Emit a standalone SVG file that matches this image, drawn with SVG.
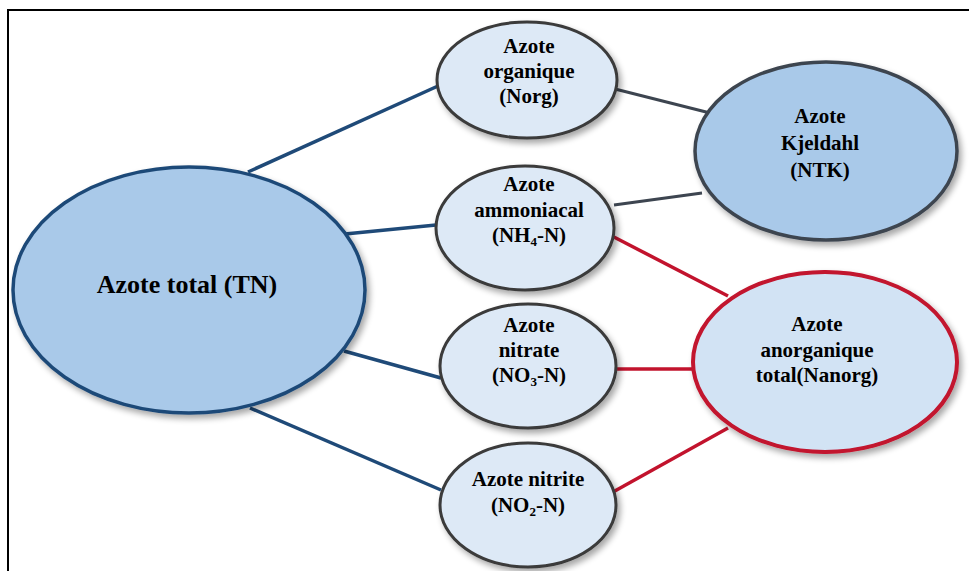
<svg xmlns="http://www.w3.org/2000/svg" width="969" height="571" viewBox="0 0 969 571">
<defs>
<filter id="sh" x="-10%" y="-10%" width="125%" height="125%">
<feGaussianBlur in="SourceAlpha" stdDeviation="3"/>
<feOffset dx="3" dy="4"/>
<feComponentTransfer><feFuncA type="linear" slope="0.35"/></feComponentTransfer>
<feMerge><feMergeNode/><feMergeNode in="SourceGraphic"/></feMerge>
</filter>
<style>
.t{font-size:21px}
.big{font-size:26px}
.sub{font-size:13px}
.small{fill:#dde9f6;stroke:#3a3a3a;stroke-width:3}
.blue{stroke:#1f4a78;stroke-width:3.5;fill:none}
.grey{stroke:#3d4550;stroke-width:3;fill:none}
.red{stroke:#c2132d;stroke-width:3.5;fill:none}
</style>
</defs>
<rect width="969" height="571" fill="#fff"/>
<path d="M8 571 V10 H969" fill="none" stroke="#000" stroke-width="2"/>
<g id="connectors">
<line class="blue" x1="248" y1="172" x2="438" y2="86"/>
<line class="blue" x1="345" y1="234" x2="436" y2="225"/>
<line class="blue" x1="344" y1="351" x2="441" y2="378"/>
<line class="blue" x1="250" y1="408" x2="441" y2="490"/>
<line class="grey" x1="615" y1="89" x2="718" y2="115"/>
<line class="grey" x1="614" y1="205" x2="702" y2="193"/>
<line class="red" x1="612" y1="236" x2="728" y2="296"/>
<line class="red" x1="615" y1="369" x2="694" y2="369"/>
<line class="red" x1="613" y1="492" x2="728" y2="428"/>
</g>
<g font-family="Liberation Serif, serif" font-weight="bold" text-anchor="middle" fill="#000">
<g id="tn">
<ellipse cx="189" cy="290" rx="176" ry="123" fill="#a9c9e9" stroke="#1f4a78" stroke-width="3.5" filter="url(#sh)"/>
<text class="big" x="187" y="293">Azote total (TN)</text>
</g>
<g id="norg">
<ellipse class="small" cx="527" cy="80" rx="90" ry="58" filter="url(#sh)"/>
<text class="t" x="529" y="53">Azote</text>
<text class="t" x="529" y="78">organique</text>
<text class="t" x="529" y="103">(Norg)</text>
</g>
<g id="nh4">
<ellipse class="small" cx="525" cy="228" rx="89" ry="62" filter="url(#sh)"/>
<text class="t" x="529" y="191">Azote</text>
<text class="t" x="529" y="217">ammoniacal</text>
<text class="t" x="529" y="242">(NH<tspan class="sub" dy="4">4</tspan><tspan dy="-4">-N)</tspan></text>
</g>
<g id="no3">
<ellipse class="small" cx="528" cy="366" rx="88" ry="62" filter="url(#sh)"/>
<text class="t" x="529" y="332">Azote</text>
<text class="t" x="529" y="357">nitrate</text>
<text class="t" x="529" y="382">(NO<tspan class="sub" dy="4">3</tspan><tspan dy="-4">-N)</tspan></text>
</g>
<g id="no2">
<ellipse class="small" cx="528" cy="505" rx="88" ry="62" filter="url(#sh)"/>
<text class="t" x="528" y="486">Azote nitrite</text>
<text class="t" x="528" y="512">(NO<tspan class="sub" dy="4">2</tspan><tspan dy="-4">-N)</tspan></text>
</g>
<g id="ntk">
<ellipse cx="826" cy="151" rx="131" ry="89" fill="#a9c9e9" stroke="#3d4550" stroke-width="3.5" filter="url(#sh)"/>
<text class="t" x="820" y="123">Azote</text>
<text class="t" x="820" y="150">Kjeldahl</text>
<text class="t" x="820" y="177">(NTK)</text>
</g>
<g id="nanorg">
<ellipse cx="825" cy="362" rx="132" ry="90" fill="#d2e3f4" stroke="#c2132d" stroke-width="4" filter="url(#sh)"/>
<text class="t" x="817" y="331">Azote</text>
<text class="t" x="817" y="357">anorganique</text>
<text class="t" x="817" y="382">total(Nanorg)</text>
</g>
</g>
</svg>
